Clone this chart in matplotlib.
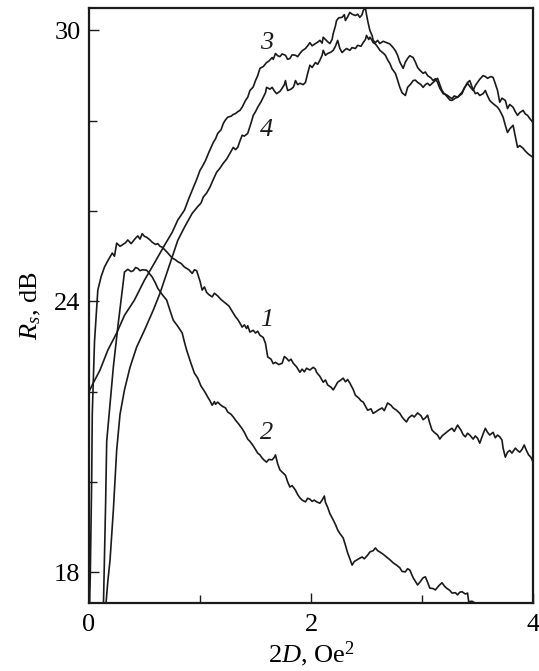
import matplotlib
matplotlib.use("Agg")
import matplotlib.pyplot as plt

# =============================
# DATA, (2D [Oe^2], Rs [dB]) pairs
# =============================
curve1 = [
    (0.005, 17.3), (0.012, 17.9), (0.025, 20.1), (0.03, 21.5), (0.05, 23.1), (0.08, 24.25),
    (0.11, 24.55), (0.14, 24.76), (0.17, 24.9), (0.21, 25.07), (0.23, 25.0), (0.25, 25.29),
    (0.28, 25.22), (0.30, 25.25), (0.33, 25.3), (0.35, 25.36), (0.38, 25.28), (0.40, 25.34),
    (0.42, 25.4), (0.44, 25.45), (0.46, 25.38), (0.48, 25.5), (0.50, 25.44), (0.52, 25.42),
    (0.55, 25.36), (0.57, 25.31), (0.60, 25.26), (0.62, 25.28), (0.64, 25.22), (0.66, 25.2),
    (0.70, 25.1), (0.75, 24.96), (0.78, 24.92), (0.80, 24.88), (0.83, 24.84), (0.86, 24.76),
    (0.90, 24.7), (0.93, 24.62), (0.95, 24.7), (0.97, 24.68), (1.00, 24.45), (1.02, 24.25),
    (1.04, 24.32), (1.06, 24.2), (1.08, 24.15), (1.11, 24.1), (1.13, 24.18), (1.16, 24.12),
    (1.19, 24.04), (1.23, 23.96), (1.26, 23.9), (1.30, 23.74), (1.32, 23.66), (1.34, 23.6),
    (1.36, 23.52), (1.38, 23.43), (1.40, 23.48), (1.42, 23.4), (1.43, 23.46), (1.45, 23.32),
    (1.48, 23.36), (1.50, 23.3), (1.52, 23.34), (1.54, 23.25), (1.57, 23.2), (1.59, 23.07),
    (1.61, 22.77), (1.64, 22.72), (1.66, 22.62), (1.68, 22.65), (1.71, 22.6), (1.74, 22.63),
    (1.76, 22.78), (1.78, 22.74), (1.80, 22.68), (1.82, 22.72), (1.84, 22.63), (1.87, 22.55),
    (1.90, 22.43), (1.92, 22.5), (1.94, 22.44), (1.96, 22.52), (1.99, 22.48), (2.02, 22.54),
    (2.04, 22.5), (2.05, 22.43), (2.08, 22.34), (2.11, 22.21), (2.13, 22.26), (2.15, 22.15),
    (2.18, 22.1), (2.20, 22.04), (2.22, 22.12), (2.24, 22.21), (2.27, 22.26), (2.29, 22.3),
    (2.31, 22.22), (2.33, 22.27), (2.35, 22.19), (2.38, 22.05), (2.40, 21.92), (2.43, 21.86),
    (2.45, 21.8), (2.47, 21.77), (2.49, 21.68), (2.51, 21.59), (2.54, 21.62), (2.56, 21.52),
    (2.58, 21.55), (2.61, 21.6), (2.64, 21.64), (2.66, 21.58), (2.69, 21.75), (2.72, 21.7),
    (2.74, 21.64), (2.77, 21.59), (2.80, 21.52), (2.82, 21.44), (2.84, 21.38), (2.86, 21.33),
    (2.88, 21.42), (2.91, 21.48), (2.93, 21.44), (2.96, 21.53), (2.99, 21.47), (3.01, 21.38),
    (3.03, 21.42), (3.05, 21.48), (3.07, 21.3), (3.09, 21.15), (3.11, 21.1), (3.14, 21.04),
    (3.16, 20.95), (3.18, 21.02), (3.21, 21.08), (3.24, 21.14), (3.27, 21.19), (3.29, 21.12),
    (3.32, 21.26), (3.35, 21.15), (3.37, 21.05), (3.39, 21.0), (3.41, 21.08), (3.43, 21.04),
    (3.46, 20.95), (3.48, 21.02), (3.50, 20.97), (3.52, 20.86), (3.54, 21.0), (3.57, 21.19),
    (3.59, 21.1), (3.61, 21.04), (3.64, 21.1), (3.66, 20.98), (3.68, 21.04), (3.70, 21.0),
    (3.72, 20.93), (3.73, 20.75), (3.75, 20.55), (3.77, 20.66), (3.79, 20.7), (3.81, 20.64),
    (3.84, 20.75), (3.86, 20.7), (3.88, 20.66), (3.90, 20.72), (3.92, 20.82), (3.94, 20.7),
    (3.96, 20.6), (3.98, 20.55), (4.00, 20.44),
]

curve2 = [
    (0.13, 17.2), (0.15, 19.5), (0.16, 20.9), (0.18, 21.45), (0.22, 22.55), (0.26, 23.43),
    (0.30, 24.25), (0.32, 24.65), (0.35, 24.71), (0.38, 24.66), (0.40, 24.68), (0.42, 24.75),
    (0.44, 24.73), (0.46, 24.68), (0.48, 24.7), (0.52, 24.69), (0.55, 24.6), (0.57, 24.54),
    (0.60, 24.4), (0.62, 24.29), (0.66, 24.15), (0.70, 24.03), (0.73, 23.8), (0.76, 23.58),
    (0.80, 23.45), (0.84, 23.3), (0.86, 23.1), (0.88, 22.92), (0.92, 22.62), (0.95, 22.41),
    (0.98, 22.3), (1.01, 22.12), (1.03, 22.05), (1.05, 21.97), (1.07, 21.88), (1.09, 21.8),
    (1.11, 21.7), (1.13, 21.78), (1.14, 21.72), (1.16, 21.77), (1.18, 21.72), (1.20, 21.68),
    (1.23, 21.64), (1.25, 21.55), (1.28, 21.5), (1.30, 21.44), (1.32, 21.37), (1.35, 21.28),
    (1.38, 21.18), (1.40, 21.1), (1.43, 20.95), (1.45, 20.9), (1.48, 20.8), (1.50, 20.72),
    (1.52, 20.64), (1.54, 20.6), (1.56, 20.53), (1.58, 20.48), (1.60, 20.44), (1.62, 20.5),
    (1.65, 20.49), (1.67, 20.55), (1.68, 20.6), (1.70, 20.4), (1.72, 20.27), (1.74, 20.22),
    (1.77, 20.15), (1.79, 20.0), (1.81, 19.89), (1.83, 19.92), (1.86, 19.82), (1.88, 19.72),
    (1.90, 19.65), (1.92, 19.6), (1.95, 19.56), (1.97, 19.64), (1.99, 19.62), (2.01, 19.57),
    (2.03, 19.6), (2.05, 19.56), (2.08, 19.53), (2.10, 19.6), (2.12, 19.69), (2.13, 19.55),
    (2.15, 19.44), (2.17, 19.3), (2.20, 19.16), (2.22, 19.06), (2.24, 18.94), (2.26, 18.86),
    (2.29, 18.76), (2.31, 18.6), (2.33, 18.43), (2.35, 18.3), (2.37, 18.16), (2.39, 18.24),
    (2.41, 18.27), (2.43, 18.3), (2.46, 18.34), (2.48, 18.3), (2.51, 18.38), (2.53, 18.45),
    (2.56, 18.48), (2.58, 18.54), (2.60, 18.48), (2.62, 18.45), (2.65, 18.4), (2.68, 18.34),
    (2.71, 18.28), (2.74, 18.21), (2.77, 18.16), (2.80, 18.1), (2.82, 18.02), (2.85, 18.01),
    (2.87, 18.08), (2.89, 18.05), (2.92, 17.88), (2.94, 17.8), (2.96, 17.72), (2.98, 17.78),
    (3.01, 17.88), (3.03, 17.9), (3.05, 17.78), (3.07, 17.65), (3.10, 17.64), (3.12, 17.61),
    (3.15, 17.7), (3.18, 17.77), (3.20, 17.7), (3.22, 17.65), (3.25, 17.6), (3.27, 17.54),
    (3.30, 17.55), (3.32, 17.5), (3.34, 17.56), (3.36, 17.57), (3.39, 17.52), (3.41, 17.54),
    (3.42, 17.35), (3.45, 17.36), (3.47, 17.33), (3.50, 17.3), (3.52, 17.2),
]

curve3 = [
    (0.00, 22.0), (0.03, 22.15), (0.10, 22.48), (0.17, 22.92), (0.25, 23.3), (0.32, 23.69),
    (0.41, 24.03), (0.50, 24.47), (0.59, 24.85), (0.68, 25.24), (0.75, 25.53), (0.80, 25.8),
    (0.86, 26.02), (0.90, 26.28), (0.93, 26.46), (0.97, 26.7), (1.00, 26.9), (1.02, 26.98),
    (1.05, 27.12), (1.08, 27.3), (1.12, 27.52), (1.14, 27.6), (1.16, 27.72), (1.19, 27.8),
    (1.21, 27.94), (1.23, 28.02), (1.25, 28.08), (1.28, 28.1), (1.30, 28.14), (1.32, 28.16),
    (1.34, 28.2), (1.36, 28.23), (1.38, 28.3), (1.41, 28.45), (1.43, 28.52), (1.45, 28.67),
    (1.48, 28.75), (1.50, 28.89), (1.52, 29.0), (1.54, 29.16), (1.57, 29.2), (1.60, 29.29),
    (1.62, 29.32), (1.65, 29.4), (1.66, 29.36), (1.68, 29.49), (1.70, 29.44), (1.72, 29.42),
    (1.74, 29.48), (1.77, 29.45), (1.79, 29.36), (1.81, 29.38), (1.83, 29.46), (1.86, 29.45),
    (1.88, 29.42), (1.90, 29.49), (1.92, 29.55), (1.95, 29.6), (1.97, 29.66), (1.99, 29.73),
    (2.01, 29.66), (2.04, 29.71), (2.06, 29.74), (2.08, 29.78), (2.10, 29.72), (2.11, 29.85),
    (2.13, 29.8), (2.15, 29.75), (2.17, 29.71), (2.19, 29.8), (2.20, 29.93), (2.22, 30.1),
    (2.23, 30.22), (2.25, 30.28), (2.28, 30.29), (2.30, 30.35), (2.31, 30.22), (2.33, 30.3),
    (2.35, 30.4), (2.37, 30.36), (2.40, 30.33), (2.42, 30.36), (2.44, 30.29), (2.46, 30.35),
    (2.47, 30.44), (2.49, 30.5), (2.50, 30.35), (2.51, 30.22), (2.53, 30.0), (2.55, 29.89),
    (2.56, 29.78), (2.58, 29.73), (2.60, 29.78), (2.62, 29.71), (2.65, 29.76), (2.68, 29.73),
    (2.71, 29.7), (2.74, 29.62), (2.76, 29.55), (2.78, 29.45), (2.80, 29.3), (2.83, 29.16),
    (2.85, 29.3), (2.87, 29.38), (2.89, 29.44), (2.92, 29.4), (2.94, 29.3), (2.96, 29.18),
    (2.98, 29.12), (3.01, 29.05), (3.03, 29.08), (3.05, 29.0), (3.08, 28.95), (3.10, 28.89),
    (3.12, 28.93), (3.14, 28.85), (3.16, 28.72), (3.19, 28.6), (3.21, 28.58), (3.23, 28.52),
    (3.25, 28.46), (3.27, 28.45), (3.30, 28.5), (3.32, 28.52), (3.34, 28.58), (3.36, 28.63),
    (3.38, 28.72), (3.41, 28.83), (3.43, 28.76), (3.46, 28.67), (3.48, 28.78), (3.50, 28.85),
    (3.52, 28.92), (3.55, 29.0), (3.57, 28.98), (3.59, 28.94), (3.62, 28.98), (3.64, 28.96),
    (3.66, 28.82), (3.68, 28.67), (3.70, 28.41), (3.72, 28.5), (3.75, 28.45), (3.77, 28.27),
    (3.79, 28.36), (3.82, 28.3), (3.84, 28.2), (3.86, 28.12), (3.88, 28.18), (3.91, 28.23),
    (3.93, 28.15), (3.95, 28.12), (3.97, 28.05), (4.00, 27.96),
]

curve4 = [
    (0.15, 17.2), (0.17, 17.8), (0.19, 18.27), (0.22, 19.38), (0.25, 20.71), (0.28, 21.5),
    (0.32, 22.04), (0.37, 22.54), (0.43, 22.99), (0.50, 23.36), (0.58, 23.81), (0.64, 24.18),
    (0.70, 24.62), (0.75, 24.98), (0.80, 25.35), (0.86, 25.64), (0.93, 25.95), (0.98, 26.1),
    (1.01, 26.18), (1.03, 26.31), (1.06, 26.4), (1.09, 26.53), (1.12, 26.7), (1.15, 26.86),
    (1.18, 26.95), (1.21, 27.06), (1.24, 27.15), (1.27, 27.28), (1.30, 27.41), (1.32, 27.36),
    (1.34, 27.41), (1.36, 27.55), (1.38, 27.68), (1.40, 27.66), (1.43, 27.72), (1.46, 27.95),
    (1.48, 28.12), (1.50, 28.2), (1.52, 28.3), (1.55, 28.42), (1.57, 28.52), (1.59, 28.62),
    (1.60, 28.74), (1.63, 28.7), (1.65, 28.74), (1.67, 28.66), (1.69, 28.6), (1.72, 28.65),
    (1.74, 28.72), (1.76, 28.8), (1.77, 28.89), (1.78, 28.76), (1.79, 28.67), (1.82, 28.7),
    (1.84, 28.74), (1.85, 28.8), (1.86, 28.89), (1.88, 28.8), (1.90, 28.83), (1.93, 28.8),
    (1.95, 28.85), (1.97, 29.05), (1.99, 29.23), (2.01, 29.18), (2.04, 29.29), (2.06, 29.25),
    (2.08, 29.34), (2.10, 29.45), (2.11, 29.56), (2.13, 29.45), (2.15, 29.49), (2.18, 29.52),
    (2.20, 29.56), (2.22, 29.65), (2.24, 29.78), (2.26, 29.6), (2.28, 29.51), (2.30, 29.56),
    (2.32, 29.6), (2.35, 29.56), (2.37, 29.62), (2.40, 29.6), (2.42, 29.67), (2.45, 29.65),
    (2.47, 29.73), (2.49, 29.8), (2.50, 29.89), (2.52, 29.8), (2.53, 29.85), (2.55, 29.78),
    (2.56, 29.73), (2.58, 29.7), (2.59, 29.67), (2.61, 29.6), (2.62, 29.56), (2.65, 29.5),
    (2.67, 29.45), (2.69, 29.35), (2.71, 29.27), (2.73, 29.15), (2.76, 29.05), (2.78, 28.9),
    (2.80, 28.74), (2.82, 28.62), (2.85, 28.56), (2.86, 28.65), (2.87, 28.74), (2.90, 28.82),
    (2.92, 28.89), (2.94, 28.9), (2.96, 28.85), (2.99, 28.8), (3.01, 28.74), (3.03, 28.8),
    (3.05, 28.83), (3.07, 28.78), (3.10, 28.85), (3.12, 28.9), (3.14, 28.94), (3.16, 28.8),
    (3.18, 28.67), (3.20, 28.6), (3.23, 28.56), (3.25, 28.52), (3.27, 28.49), (3.29, 28.55),
    (3.32, 28.52), (3.34, 28.56), (3.36, 28.6), (3.38, 28.72), (3.41, 28.85), (3.43, 28.89),
    (3.45, 28.75), (3.48, 28.6), (3.50, 28.62), (3.52, 28.56), (3.55, 28.6), (3.57, 28.67),
    (3.59, 28.55), (3.61, 28.45), (3.63, 28.4), (3.66, 28.34), (3.68, 28.3), (3.70, 28.23),
    (3.73, 28.08), (3.75, 27.9), (3.77, 27.74), (3.79, 27.82), (3.82, 27.9), (3.84, 27.65),
    (3.86, 27.41), (3.88, 27.45), (3.91, 27.39), (3.93, 27.33), (3.95, 27.28), (3.97, 27.24),
    (4.00, 27.19),
]

curves = [curve1, curve2, curve3, curve4]

curve_labels = ["1", "2", "3", "4"]
label_x = [1.60, 1.60, 1.60, 1.60]
label_y = [23.58, 21.08, 29.72, 27.79]

x_major = [0, 2, 4]
x_minor = [1, 3]
y_major = [18, 24, 30]
y_minor = [20, 22, 26, 28]


# =============================
# STYLE
# =============================
plt.rcParams["font.family"] = ["Liberation Serif", "DejaVu Serif"]
plt.rcParams["mathtext.fontset"] = "custom"
plt.rcParams["mathtext.rm"] = "Liberation Serif"
plt.rcParams["mathtext.it"] = "Liberation Serif:italic"

FS = 19
INK = "#1a1a1a"


# =============================
# PLOT
# =============================
def main():
    fig = plt.figure(figsize=(5.39, 6.71), dpi=100)
    ax = fig.add_axes([0.165, 0.1013, 0.824, 0.8863])

    for pts in curves:
        cx = [p[0] for p in pts]
        cy = [p[1] for p in pts]
        ax.plot(cx, cy, color=INK, lw=1.2)

    for txt, lx, ly in zip(curve_labels, label_x, label_y):
        ax.text(lx, ly, txt, fontsize=FS, style="italic",
                ha="center", va="center", color=INK)

    ax.set_xlim(0, 4)
    ax.set_ylim(17.32, 30.49)

    ax.set_xticks(x_major)
    ax.set_xticks(x_minor, minor=True)
    ax.set_yticks(y_major)
    ax.set_yticks(y_minor, minor=True)

    ax.tick_params(which="both", direction="in", top=False, right=False,
                   labelsize=FS, width=1.0, color=INK)
    ax.tick_params(which="major", length=7)
    ax.tick_params(which="minor", length=5.5)
    ax.tick_params(axis="y", pad=6)
    ax.tick_params(axis="x", pad=8)

    for s in ax.spines.values():
        s.set_linewidth(1.6)
        s.set_color(INK)

    ax.set_xlabel(r"2$D$, Oe$^2$", fontsize=FS, labelpad=2)
    ax.set_ylabel(r"$R_s$, dB", fontsize=FS, labelpad=8)

    fig.savefig("out.png", dpi=100, facecolor="white")


if __name__ == "__main__":
    main()
